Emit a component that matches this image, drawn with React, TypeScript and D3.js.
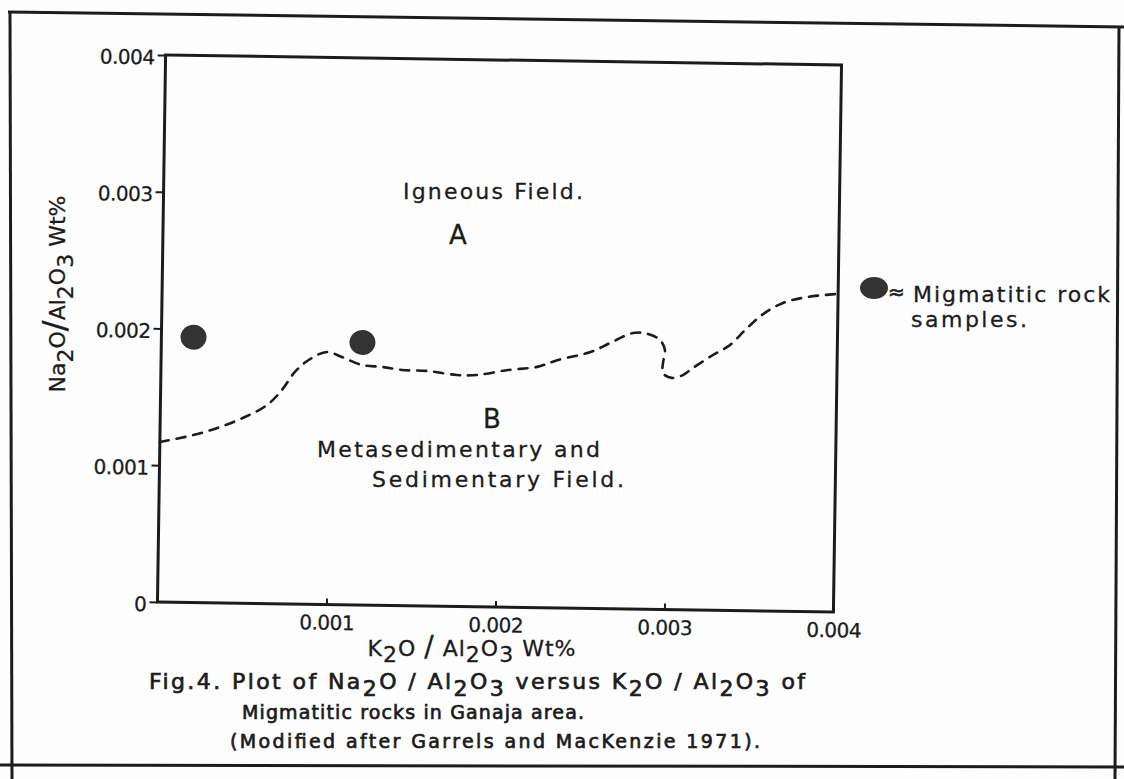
import { useEffect, useRef } from "react";
import * as d3 from "d3";

// axis ticks (K2O/Al2O3 along x, Na2O/Al2O3 along y, both Wt%)
const xTicks = [0.001, 0.002, 0.003, 0.004];
const yTicks = [0, 0.001, 0.002, 0.003, 0.004];

// migmatitic rock samples, Ganaja area
const sampleK2O = [0.00019, 0.00119];
const sampleNa2O = [0.00194, 0.00192];

// dashed boundary between igneous field (A) and metasedimentary field (B)
const boundaryK2O = [
  0.0, 0.000196, 0.000355, 0.000501, 0.000631, 0.000718, 0.000793, 0.000882, 0.000982, 0.00107,
  0.001189, 0.001308, 0.001426, 0.00158, 0.001751, 0.00187, 0.002053, 0.002225, 0.002349, 0.00254,
  0.002654, 0.00279, 0.002879, 0.00295, 0.00298, 0.00297, 0.00297, 0.003022, 0.003088, 0.003147,
  0.003265, 0.003365, 0.003453, 0.003551, 0.003675, 0.003822, 0.004,
];
const boundaryNa2O = [
  0.00117, 0.001224, 0.001286, 0.001362, 0.001452, 0.001564, 0.001697, 0.001793, 0.001846, 0.001811,
  0.001755, 0.001743, 0.001723, 0.001718, 0.001692, 0.001694, 0.001734, 0.00176, 0.001813, 0.001874,
  0.001942, 0.002018, 0.002013, 0.00197, 0.001897, 0.001802, 0.001729, 0.001694, 0.001716, 0.001769,
  0.001866, 0.001941, 0.002052, 0.002164, 0.002254, 0.002301, 0.002326,
];

const W = 1124;
const H = 779;
const plot = { left: 161.5, right: 837.5, top: 60, bottom: 607 };
const tilt = 0.85; // the scanned figure sits slightly rotated
const FONT = "'DejaVu Sans', Verdana, sans-serif";
const INK = "#1c1c1c";

const x = d3.scaleLinear().domain([0, 0.004]).range([plot.left, plot.right]);
const y = d3.scaleLinear().domain([0, 0.004]).range([plot.bottom, plot.top]);
const fmt = (d: number) => (d === 0 ? "0" : d3.format(".3f")(d));

// "Na_2O" -> Na, 2 (lowered), O
function chem(s: string, drop: number, slashSize?: number) {
  const parts: { t: string; sub: boolean }[] = [];
  for (let i = 0; i < s.length; i++) {
    if (s[i] === "_") {
      parts.push({ t: s[i + 1], sub: true });
      i++;
    } else if (parts.length && !parts[parts.length - 1].sub && s[i] !== "/" && parts[parts.length - 1].t !== "/") {
      parts[parts.length - 1].t += s[i];
    } else {
      parts.push({ t: s[i], sub: false });
    }
  }
  let low = false;
  return parts.map((p, i) => {
    let dy = 0;
    if (p.sub && !low) {
      dy = drop;
      low = true;
    } else if (!p.sub && low) {
      dy = -drop;
      low = false;
    }
    const big = p.t === "/" && slashSize;
    return (
      <tspan key={i} dy={dy || undefined} fontSize={big ? slashSize : undefined}>
        {p.t}
      </tspan>
    );
  });
}

export default function App() {
  const xAxisRef = useRef<SVGGElement>(null);
  const yAxisRef = useRef<SVGGElement>(null);

  useEffect(() => {
    const gx = d3.select(xAxisRef.current!);
    gx.call(
      d3.axisBottom(x).tickValues(xTicks).tickFormat(fmt as any).tickSizeInner(-6).tickSizeOuter(0).tickPadding(11)
    );
    const gy = d3.select(yAxisRef.current!);
    gy.call(d3.axisLeft(y).tickValues(yTicks).tickFormat(fmt as any).tickSizeInner(8).tickSizeOuter(0).tickPadding(3));
    [gx, gy].forEach((g) => {
      g.attr("font-family", null).attr("font-size", null);
      g.select(".domain").remove();
      g.selectAll(".tick line").attr("stroke", INK).attr("stroke-width", 2);
      g.selectAll(".tick text")
        .attr("fill", INK)
        .attr("stroke", INK)
        .attr("stroke-width", 0.3)
        .attr("font-family", FONT)
        .attr("font-size", 20)
        .attr("letter-spacing", -0.5);
    });
    gy.selectAll(".tick text").attr("dy", "0.45em");
  }, []);

  const line = d3
    .line<number>()
    .x((_, i) => x(boundaryK2O[i]))
    .y((d) => y(d))
    .curve(d3.curveCatmullRom.alpha(0.5));

  const cx = (plot.left + plot.right) / 2;
  const cy = (plot.top + plot.bottom) / 2;

  return (
    <svg
      width={W}
      height={H}
      viewBox={`0 0 ${W} ${H}`}
      style={{ position: "absolute", left: 0, top: 0, display: "block", background: "#fdfdfd" }}
      fontFamily={FONT}
    >
      <rect width={W} height={H} fill="#fdfdfd" />

      {/* outer border of the scanned page */}
      <g stroke={INK} strokeWidth={3} fill="none">
        <line x1={8} y1={12} x2={1124} y2={27} />
        <line x1={10} y1={12} x2={12} y2={779} />
        <line x1={1119} y1={27} x2={1115} y2={779} />
        <line x1={0} y1={765} x2={1124} y2={767} />
      </g>

      <g transform={`rotate(${tilt},${cx},${cy})`}>
        <rect
          x={plot.left}
          y={plot.top}
          width={plot.right - plot.left}
          height={plot.bottom - plot.top}
          fill="none"
          stroke={INK}
          strokeWidth={3}
        />
        <g ref={xAxisRef} transform={`translate(0,${plot.bottom})`} />
        <g ref={yAxisRef} transform={`translate(${plot.left},0)`} />

        <path
          d={line(boundaryNa2O) || ""}
          fill="none"
          stroke={INK}
          strokeWidth={2.6}
          strokeDasharray="9 8"
          strokeLinecap="round"
        />

        {sampleK2O.map((k, i) => (
          <ellipse key={i} cx={x(k)} cy={y(sampleNa2O[i])} rx={13} ry={12.5} fill="#333" />
        ))}
      </g>

      {/* field annotations */}
      <g fill={INK} stroke={INK} strokeWidth={0.3} fontSize={22}>
        <text x={403} y={199} textLength={180} lengthAdjust="spacing">
          Igneous Field.
        </text>
        <text x={458} y={244} textAnchor="middle" fontSize={26}>
          A
        </text>
        <text x={492} y={428} textAnchor="middle" fontSize={26}>
          B
        </text>
        <text x={317} y={457} textLength={283} lengthAdjust="spacing">
          Metasedimentary and
        </text>
        <text x={372} y={487} textLength={252} lengthAdjust="spacing">
          Sedimentary Field.
        </text>
      </g>

      {/* legend */}
      <ellipse cx={874} cy={288} rx={14} ry={11} fill="#333" />
      <text x={888} y={299} fontSize={20} fill={INK} stroke={INK} strokeWidth={0.6}>
        ≈
      </text>
      <g fill={INK} stroke={INK} strokeWidth={0.3} fontSize={22}>
        <text x={913} y={302} textLength={197} lengthAdjust="spacing">
          Migmatitic rock
        </text>
        <text x={911} y={327} textLength={116} lengthAdjust="spacing">
          samples.
        </text>
      </g>

      {/* axis titles */}
      <text
        transform="translate(65,294) rotate(-90)"
        textAnchor="middle"
        fontSize={22}
        fill={INK}
        stroke={INK}
        strokeWidth={0.3}
        style={{ whiteSpace: "pre" }}
      >
        {chem("Na_2O/Al_2O_3 Wt%", 8, 32)}
      </text>
      <text
        x={472}
        y={656}
        textAnchor="middle"
        fontSize={22}
        fill={INK}
        stroke={INK}
        strokeWidth={0.3}
        letterSpacing={1}
        style={{ whiteSpace: "pre" }}
      >
        {chem("K_2O / Al_2O_3 Wt%", 6, 28)}
      </text>

      {/* caption */}
      <g fill={INK} stroke={INK} strokeWidth={0.7} style={{ whiteSpace: "pre" }}>
        <text x={149} y={689} fontSize={22} textLength={656} lengthAdjust="spacing">
          {chem("Fig.4.  Plot  of  Na_2O / Al_2O_3 versus  K_2O / Al_2O_3 of", 7)}
        </text>
        <text x={242} y={719} fontSize={19} textLength={342} lengthAdjust="spacing">
          Migmatitic rocks in Ganaja area.
        </text>
        <text x={230} y={748} fontSize={19} textLength={530} lengthAdjust="spacing">
          (Modified  after Garrels and MacKenzie 1971).
        </text>
      </g>
    </svg>
  );
}
